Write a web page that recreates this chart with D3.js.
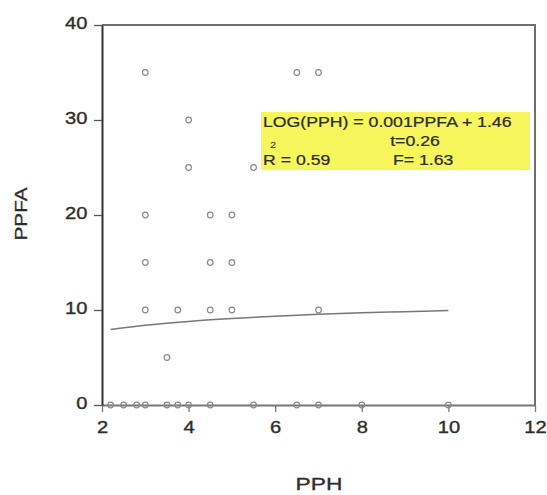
<!DOCTYPE html>
<html><head><meta charset="utf-8">
<script src="https://cdn.jsdelivr.net/npm/d3@7"></script>
<style>body{margin:0;background:#fff;} text{font-family:"Liberation Sans",Arial,sans-serif;}</style>
</head><body><svg id="c" width="547" height="495"></svg>
<script>
// Data (PPH, PPFA)
const pph  = [3, 4, 4, 5.5, 6.5, 7, 3, 4.5, 5, 3, 4.5, 5, 3, 3.75, 4.5, 5, 7, 3.5,
              2.2, 2.5, 2.8, 3, 3.5, 3.75, 4, 4.5, 5.5, 6.5, 7, 8, 10];
const ppfa = [35, 30, 25, 25, 35, 35, 20, 20, 20, 15, 15, 15, 10, 10, 10, 10, 10, 5,
              0, 0, 0, 0, 0, 0, 0, 0, 0, 0, 0, 0, 0];
// fitted curve
const fitX = [2.2, 3, 4, 5, 6, 7, 8, 9, 10];
const fitY = [7.95, 8.4, 8.8, 9.1, 9.35, 9.55, 9.7, 9.82, 9.95];
const xTicks = [2, 4, 6, 8, 10, 12];
const yTicks = [0, 10, 20, 30, 40];
const eqLines = ["LOG(PPH) = 0.001PPFA + 1.46", "t=0.26", "R = 0.59", "F= 1.63"];

const svg = d3.select("#c");
const L = 102, R = 535, T = 25, B = 405;
const x = d3.scaleLinear().domain([2, 12]).range([L, R]);
const y = d3.scaleLinear().domain([0, 40]).range([B, T]);
const SX = 1.22;
const txt = "#2e2e2e";

// frame top/right
svg.append("path").attr("d", `M${L},${T}H${R}V${B}`).attr("fill", "none")
  .attr("stroke", "#6e6e6e").attr("stroke-width", 2);

// x axis
const gx = svg.append("g").attr("transform", `translate(0,${B})`)
  .call(d3.axisBottom(x).tickValues(xTicks).tickSize(7).tickSizeOuter(0).tickPadding(0));
gx.select(".domain").attr("stroke", "#777").attr("stroke-width", 2);
gx.selectAll(".tick line").attr("stroke", "#777").attr("stroke-width", 1.3);
gx.selectAll(".tick text").attr("font-size", 16.5).attr("fill", txt)
  .attr("stroke", txt).attr("stroke-width", 0.35)
  .attr("font-family", "Liberation Sans, Arial, sans-serif")
  .attr("y", 28.5).attr("dy", 0).attr("transform", `scale(${SX},1)`);

// y axis
const gy = svg.append("g").attr("transform", `translate(${L},0)`)
  .call(d3.axisLeft(y).tickValues(yTicks).tickSize(8).tickSizeOuter(0).tickPadding(0));
gy.select(".domain").attr("stroke", "#333").attr("stroke-width", 2);
gy.selectAll(".tick line").attr("stroke", "#555").attr("stroke-width", 1.3);
gy.selectAll(".tick text").attr("font-size", 16.5).attr("fill", txt)
  .attr("stroke", txt).attr("stroke-width", 0.35)
  .attr("font-family", "Liberation Sans, Arial, sans-serif")
  .attr("x", -14.5/SX).attr("dy", 3).attr("transform", `scale(${SX},1)`);

// fitted curve
const line = d3.line().x((d, i) => x(fitX[i])).y((d, i) => y(fitY[i])).curve(d3.curveMonotoneX);
svg.append("path").datum(fitX).attr("d", line).attr("fill", "none")
  .attr("stroke", "#777").attr("stroke-width", 1.5);

// points
svg.append("g").selectAll("circle").data(pph).join("circle")
  .attr("cx", (d) => x(d)).attr("cy", (d, i) => y(ppfa[i])).attr("r", 2.8)
  .attr("fill", "none").attr("stroke", "#8a8a8a").attr("stroke-width", 1.2);

// equation box
svg.append("rect").attr("x", 261).attr("y", 112).attr("width", 269).attr("height", 58)
  .attr("fill", "#f6f65c");
const eqPos = [[263, 127, "start"], [415, 146, "middle"], [263, 165, "start"], [393, 165, "start"]];
eqLines.forEach((t, i) => {
  svg.append("text").attr("transform", `translate(${eqPos[i][0]},${eqPos[i][1]}) scale(${SX},1)`)
    .attr("text-anchor", eqPos[i][2]).attr("font-size", 14.5).attr("fill", txt)
    .attr("stroke", txt).attr("stroke-width", 0.25).text(t);
});
svg.append("text").attr("transform", `translate(273,148) scale(${SX},1)`)
  .attr("text-anchor", "middle").attr("font-size", 9).attr("fill", txt).text("2");

// axis titles
svg.append("text").attr("transform", `translate(319,490) scale(${SX*1.1},1)`)
  .attr("text-anchor", "middle").attr("font-size", 17).attr("fill", txt)
  .attr("stroke", txt).attr("stroke-width", 0.3).text("PPH");
svg.append("text").attr("transform", `translate(27,214) rotate(-90) scale(${SX},1)`)
  .attr("text-anchor", "middle").attr("font-size", 17).attr("fill", txt)
  .attr("stroke", txt).attr("stroke-width", 0.3).text("PPFA");
</script></body></html>
